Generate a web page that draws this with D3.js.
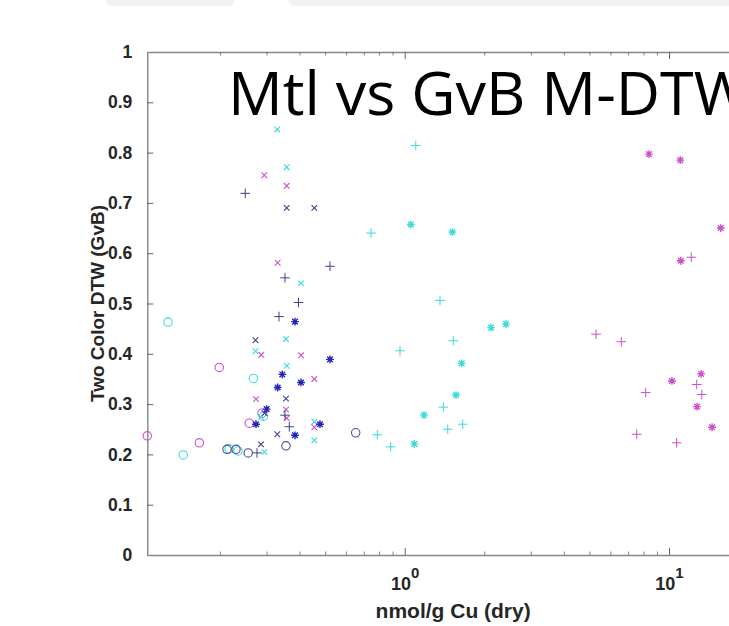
<!DOCTYPE html>
<html>
<head>
<meta charset="utf-8">
<script src="https://cdn.jsdelivr.net/npm/d3@7"></script>
<style>
  body { margin: 0; background: #fff; }
  .tick-label { font-family: "Liberation Sans", Arial, sans-serif; font-weight: bold; fill: #262626; }
</style>
</head>
<body>
<svg id="scatter" width="729" height="626"></svg>
<script>
// ---- data: [nmol/g Cu, two color DTW] ----
const cyanCircles = [[0.1272, 0.463], [0.1453, 0.199], [0.2164, 0.211], [0.2340, 0.207], [0.2674, 0.351], [0.2923, 0.276]];
const magentaCircles = [[0.1062, 0.237], [0.1671, 0.223], [0.1988, 0.373], [0.2582, 0.262], [0.2885, 0.282]];
const navyCircles = [[0.2127, 0.210], [0.2300, 0.210], [0.2559, 0.203], [0.3555, 0.217], [0.6525, 0.243]];

const cyanCrosses = [[0.3296, 0.846], [0.3577, 0.771], [0.4051, 0.540], [0.3555, 0.429], [0.2726, 0.405],
  [0.3577, 0.376], [0.2860, 0.274], [0.2948, 0.205], [0.4550, 0.265], [0.4550, 0.228]];
const magentaCrosses = [[0.2943, 0.755], [0.3577, 0.734], [0.3307, 0.581], [0.2866, 0.398], [0.4051, 0.397],
  [0.4550, 0.350], [0.2738, 0.310], [0.3555, 0.289], [0.3577, 0.272], [0.4550, 0.254]];
const navyCrosses = [[0.3577, 0.690], [0.4550, 0.690], [0.2726, 0.427], [0.3555, 0.311], [0.3296, 0.240],
  [0.2860, 0.220], [0.2948, 0.282]];

const navyPluses = [[0.2493, 0.719], [0.3524, 0.551], [0.3964, 0.502], [0.3345, 0.474], [0.5216, 0.574],
  [0.3524, 0.278], [0.3659, 0.255], [0.2762, 0.203]];
const cyanPluses = [[1.101, 0.814], [0.7455, 0.640], [1.360, 0.506], [0.9599, 0.406], [1.527, 0.426],
  [1.400, 0.294], [0.7877, 0.239], [0.8851, 0.215], [1.455, 0.250], [1.658, 0.260]];
const magentaPluses = [[12.14, 0.592], [5.296, 0.439], [6.600, 0.424], [8.161, 0.323], [12.73, 0.339],
  [13.30, 0.319], [7.548, 0.240], [10.69, 0.223]];

const blueStars = [[0.3845, 0.464], [0.3442, 0.359], [0.3307, 0.333], [0.4051, 0.343], [0.5216, 0.389],
  [0.3005, 0.290], [0.2738, 0.260], [0.3845, 0.238], [0.4780, 0.260]];
const cyanStars = [[1.054, 0.657], [1.514, 0.642], [2.121, 0.452], [2.416, 0.459], [1.643, 0.381],
  [1.564, 0.318], [1.183, 0.278], [1.087, 0.221]];
const magentaStars = [[8.40, 0.797], [11.04, 0.785], [15.69, 0.650], [11.08, 0.585], [13.22, 0.360],
  [10.26, 0.346], [12.76, 0.295], [14.55, 0.254]];

const yTicks = [0, 0.1, 0.2, 0.3, 0.4, 0.5, 0.6, 0.7, 0.8, 0.9, 1];
const xMajorTicks = [1, 10];
const xMinorTicks = [0.2, 0.3, 0.4, 0.5, 0.6, 0.7, 0.8, 0.9, 2, 3, 4, 5, 6, 7, 8, 9, 20];
const xDomain = [0.1062, 21.9];
const yDomain = [0, 1];

const plotTitle = "Mtl vs GvB M-DTW";
const xTitle = "nmol/g Cu (dry)";
const yTitle = "Two Color DTW (GvB)";

// ---- layout ----
const svg = d3.select("#scatter");
const margin = { top: 52, left: 147.3, bottom: 71 };
const height = +svg.attr("height");
const innerHeight = height - margin.top - margin.bottom;
const innerWidth = 611.7; // axes run past the right edge of the window

const xScale = d3.scaleLog().domain(xDomain).range([0, innerWidth]);
const yScale = d3.scaleLinear().domain(yDomain).range([innerHeight, 0]);

// faded strip at the very top (slide edge)
svg.append("rect").attr("x", 105).attr("y", -9).attr("width", 130).attr("height", 15)
  .attr("rx", 7).attr("fill", "#f2f2f2");
svg.append("rect").attr("x", 288).attr("y", -9).attr("width", 460).attr("height", 15)
  .attr("rx", 7).attr("fill", "#f2f2f2");

const g = svg.append("g").attr("transform", `translate(${margin.left},${margin.top})`);

const axisColor = "#868686";

// y axis (ticks point inward)
const yAxisG = g.append("g")
  .call(d3.axisLeft(yScale).tickValues(yTicks).tickSizeInner(-6).tickSizeOuter(0)
    .tickPadding(15).tickFormat(d3.format("~g")));
yAxisG.select(".domain").attr("stroke", axisColor).attr("stroke-width", 1.4);
yAxisG.selectAll(".tick line").attr("stroke", "#555").attr("stroke-width", 0.9);
yAxisG.selectAll(".tick text").attr("class", "tick-label").style("font-size", "17.5px");

// x axis bottom: minor ticks
const xMinorG = g.append("g").attr("transform", `translate(0,${innerHeight})`)
  .call(d3.axisBottom(xScale).tickValues(xMinorTicks).tickSizeInner(-3.5).tickSizeOuter(0).tickFormat(""));
xMinorG.select(".domain").attr("stroke", axisColor).attr("stroke-width", 1.4);
xMinorG.selectAll(".tick line").attr("stroke", "#666").attr("stroke-width", 0.8);

// x axis bottom: major ticks with 10^n labels
const xMajorG = g.append("g").attr("transform", `translate(0,${innerHeight})`)
  .call(d3.axisBottom(xScale).tickValues(xMajorTicks).tickSizeInner(-7).tickSizeOuter(0).tickFormat(""));
xMajorG.select(".domain").remove();
xMajorG.selectAll(".tick line").attr("stroke", "#555").attr("stroke-width", 0.9);
xMajorG.selectAll(".tick").append("text")
  .attr("class", "tick-label")
  .attr("y", 35)
  .attr("text-anchor", "middle")
  .style("font-size", "18px")
  .each(function (d) {
    const t = d3.select(this);
    t.append("tspan").text("10");
    t.append("tspan").attr("dy", -12).style("font-size", "15px").text(Math.round(Math.log10(d)));
  });

// top axis line with inward ticks
const xTopMinor = g.append("g")
  .call(d3.axisTop(xScale).tickValues(xMinorTicks).tickSizeInner(-3.5).tickSizeOuter(0).tickFormat(""));
xTopMinor.select(".domain").attr("stroke", axisColor).attr("stroke-width", 1.4);
xTopMinor.selectAll(".tick line").attr("stroke", "#666").attr("stroke-width", 0.8);
const xTopMajor = g.append("g")
  .call(d3.axisTop(xScale).tickValues(xMajorTicks).tickSizeInner(-7).tickSizeOuter(0).tickFormat(""));
xTopMajor.select(".domain").remove();
xTopMajor.selectAll(".tick line").attr("stroke", "#555").attr("stroke-width", 0.9);

// axis titles
g.append("text")
  .attr("class", "tick-label")
  .attr("x", innerWidth / 2)
  .attr("y", innerHeight + 63)
  .attr("text-anchor", "middle")
  .style("font-size", "21px")
  .text(xTitle);

g.append("text")
  .attr("class", "tick-label")
  .attr("transform", `rotate(-90)`)
  .attr("x", -innerHeight / 2)
  .attr("y", -43)
  .attr("text-anchor", "middle")
  .style("font-size", "19px")
  .text(yTitle);

// markers
const markerPaths = {
  circle: d3.symbol().type(d3.symbolCircle).size(Math.PI * 4.2 * 4.2)(),
  plus: "M-4.8,0H4.8M0,-4.8V4.8",
  cross: "M-2.8,-2.8L2.8,2.8M-2.8,2.8L2.8,-2.8",
  star: "M-3.9,0H3.9M0,-3.9V3.9M-2.8,-2.8L2.8,2.8M-2.8,2.8L2.8,-2.8"
};

const drawSeries = (data, shape, color, sw) => {
  g.append("g").selectAll("path")
    .data(data)
    .enter()
    .append("path")
    .attr("transform", (d) => `translate(${xScale(d[0])},${yScale(d[1])})`)
    .attr("d", markerPaths[shape])
    .attr("fill", "none")
    .attr("stroke", color)
    .attr("stroke-width", sw);
};

const cyan = "#3ddada";
const magenta = "#cc4fcc";
const navy = "#3f3f8f";
const blue = "#2424b8";

drawSeries(cyanCircles, "circle", cyan, 1.1);
drawSeries(magentaCircles, "circle", magenta, 1.1);
drawSeries(navyCircles, "circle", "#4a4a9c", 1.1);
drawSeries(cyanCrosses, "cross", cyan, 1.1);
drawSeries(magentaCrosses, "cross", magenta, 1.1);
drawSeries(navyCrosses, "cross", navy, 1.1);
drawSeries(navyPluses, "plus", navy, 1);
drawSeries(cyanPluses, "plus", cyan, 1);
drawSeries(magentaPluses, "plus", magenta, 1);
drawSeries(blueStars, "star", blue, 1.4);
drawSeries(cyanStars, "star", cyan, 1.4);
drawSeries(magentaStars, "star", magenta, 1.4);

// big slide title
svg.append("text")
  .attr("x", 228)
  .attr("y", 115)
  .attr("font-family", "'Open Sans', sans-serif")
  .attr("font-size", "61px")
  .attr("fill", "#000")
  .text(plotTitle);
</script>
</body>
</html>
